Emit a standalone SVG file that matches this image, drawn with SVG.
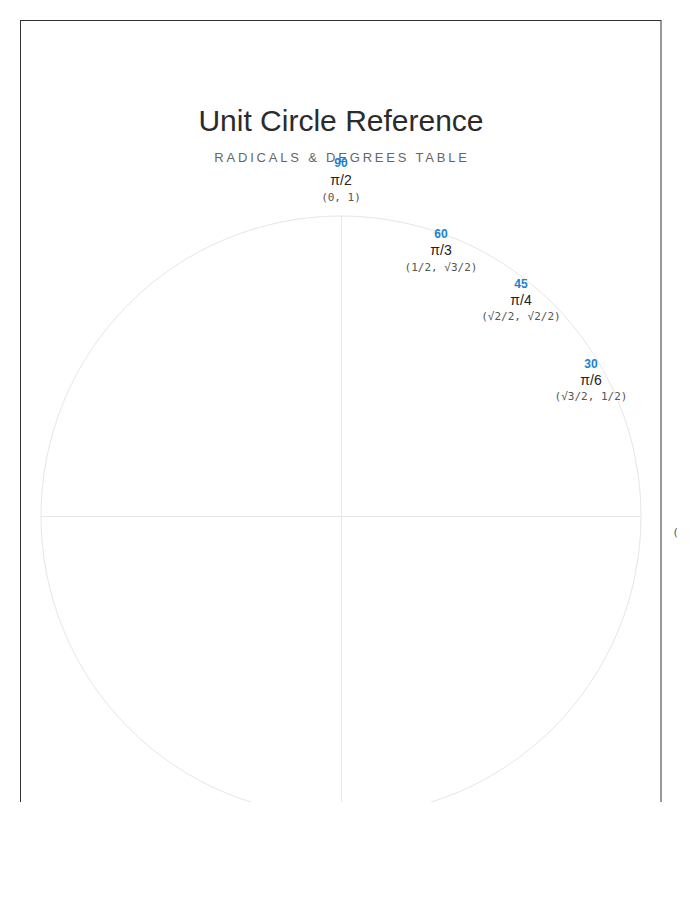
<svg xmlns="http://www.w3.org/2000/svg" width="700" height="900" viewBox="0 0 700 900">
<style>
.title{font-family:"Liberation Sans",Arial,sans-serif;font-size:30px;fill:#2b2b2b;text-anchor:middle}
.sub{font-family:"Liberation Sans",Arial,sans-serif;font-size:13px;fill:#666;letter-spacing:2.8px;text-anchor:middle}
.deg{font-family:"Liberation Sans",Arial,sans-serif;font-size:12px;font-weight:bold;fill:#1a7fd6;text-anchor:middle}
.rad{font-family:"Liberation Sans",Arial,sans-serif;font-size:14px;fill:#222;text-anchor:middle}
.crd{font-family:"DejaVu Sans Mono","Liberation Mono",monospace;font-size:11px;fill:#555;text-anchor:middle}
.guide{fill:none;stroke:#e6e6e6;stroke-width:1}
</style>
<defs>
<clipPath id="vp"><rect x="0" y="0" width="679" height="802"/></clipPath>
</defs>
<rect width="700" height="900" fill="#fff"/>
<g clip-path="url(#vp)">
<rect id="frame" x="20.5" y="20.5" width="640.5" height="900" fill="#fff" stroke="#333" stroke-width="1"/>
<g id="circle">
<circle class="guide" cx="341" cy="516" r="300"/>
<line class="guide" x1="41" y1="516.5" x2="641" y2="516.5"/>
<line class="guide" x1="341.5" y1="216" x2="341.5" y2="816"/>
</g>
<text class="title" x="341" y="131">Unit Circle Reference</text>
<text class="sub" x="342" y="162">RADICALS &amp; DEGREES TABLE</text>
<g id="a0">
<text class="deg" x="692" y="504">0</text>
<text class="rad" x="692" y="521">0</text>
<text class="crd" x="692" y="536">(1, 0)</text>
</g>
<g id="a30">
<text class="deg" x="591" y="368">30</text>
<text class="rad" x="591" y="385">π/6</text>
<text class="crd" x="591" y="400">(√3/2, 1/2)</text>
</g>
<g id="a45">
<text class="deg" x="521" y="288">45</text>
<text class="rad" x="521" y="305">π/4</text>
<text class="crd" x="521" y="320">(√2/2, √2/2)</text>
</g>
<g id="a60">
<text class="deg" x="441" y="238">60</text>
<text class="rad" x="441" y="255">π/3</text>
<text class="crd" x="441" y="271">(1/2, √3/2)</text>
</g>
<g id="a90">
<text class="deg" x="341" y="167">90</text>
<text class="rad" x="341" y="185">π/2</text>
<text class="crd" x="341" y="201">(0, 1)</text>
</g>
</g>
</svg>
